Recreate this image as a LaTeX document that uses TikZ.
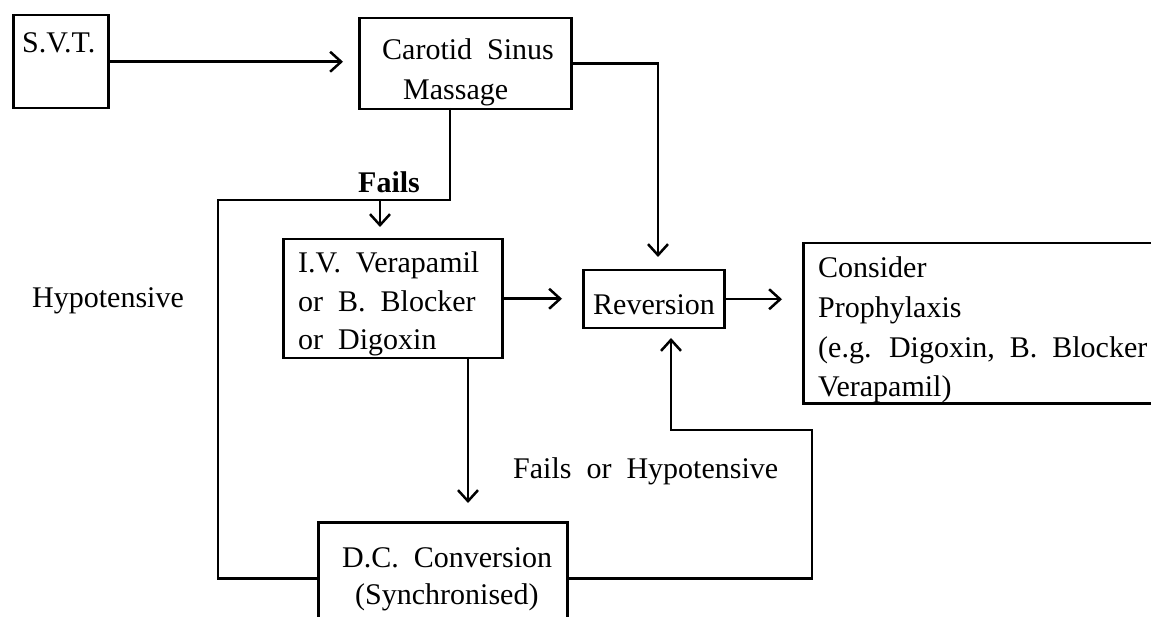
\documentclass[tikz,border=0pt]{standalone}
\usepackage{fontspec}
\setmainfont{Liberation Serif}
\usetikzlibrary{arrows.meta,calc}
\newcommand\mylblfont{\fontsize{30}{39}\selectfont\spaceskip=0.5em plus 0.1em\relax}
\tikzset{
  boxn/.style={draw, line width=2.5pt, rectangle, inner sep=0pt, anchor=north west},
  lbl/.style={inner sep=0pt, anchor=base west, font=\mylblfont},
  conn/.style={line width=2.5pt},
  arr/.style={conn, -{Straight Barb[length=11pt,width=20pt,line width=2.5pt]}},
}
\begin{document}
\begin{tikzpicture}[x=1pt,y=-1pt]
\useasboundingbox (0,0) rectangle (1151,617);
% boxes
\node[boxn, minimum width=95pt, minimum height=93pt] (svt) at (12,14) {};
\node[boxn, minimum width=212pt, minimum height=91pt] (car) at (358,17) {};
\node[boxn, minimum width=219pt, minimum height=119pt] (ver) at (282,238) {};
\node[boxn, minimum width=141pt, minimum height=58pt] (rev) at (582,269) {};
\node[boxn, minimum width=400pt, minimum height=160pt] (pro) at (802,242) {};
\node[boxn, minimum width=249pt, minimum height=112pt] (dc) at (317,521) {};
% labels
\node[lbl] (tsvt) at (22,53) {S.V.T.};
\node[lbl] (tcar1) at (382,60) {Carotid Sinus};
\node[lbl] (tcar2) at (403,100) {Massage};
\node[lbl, font=\mylblfont\bfseries] (tfails) at (358,193) {Fails};
\node[lbl] (thyp) at (32,308) {Hypotensive};
\node[lbl] (tver1) at (298,273) {I.V. Verapamil};
\node[lbl] (tver2) at (298,312) {or B. Blocker};
\node[lbl] (tver3) at (298,350) {or Digoxin};
\node[lbl] (trev) at (593,315) {Reversion};
\node[lbl] (tpro1) at (818,278) {Consider};
\node[lbl] (tpro2) at (818,318) {Prophylaxis};
\node[lbl] (tpro3) at (818,358) {(e.g. Digoxin, B. Blocker};
\node[lbl] (tpro4) at (818,396) {Verapamil)};
\node[lbl] (tfoh) at (513,478) {Fails or Hypotensive};
\node[lbl] (tdc1) at (342,567) {D.C. Conversion};
\node[lbl] (tdc2) at (355,604) {(Synchronised)};
% helper coordinates
\coordinate (cs) at (450,108);
\coordinate (hr) at (450,200);
\coordinate (hl) at (218,200);
\coordinate (fb) at (380,200);
\coordinate (cr) at (658,62);
\coordinate (vb) at (468,357);
\coordinate (rc) at (812,430);
\coordinate (ri) at (671,327);
% connectors
\draw[arr, shorten >=15pt] (svt.east) -- (svt.east -| car.west);
\draw[arr, shorten >=12pt] (car.east) -| (cr |- rev.north);
\draw[conn] (cs) -- (hr) -- (hl) |- (dc.west);
\draw[arr, shorten >=11pt] (fb) -- (fb |- ver.north);
\draw[arr, shorten >=20pt] (ver.east) -- (ver.east -| rev.west);
\draw[arr, shorten >=20pt] (rev.east) -- (rev.east -| pro.west);
\draw[arr, shorten >=18pt] (vb) -- (vb |- dc.north);
\draw[arr, shorten >=11pt] (dc.east) -| (rc) -| (ri);
\end{tikzpicture}
\end{document}
